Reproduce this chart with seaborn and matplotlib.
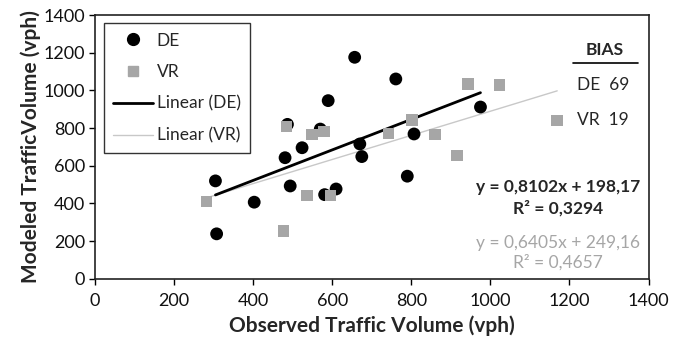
import numpy as np
import pandas as pd
import matplotlib
matplotlib.use("Agg")
import matplotlib.pyplot as plt
import seaborn as sns
from matplotlib.lines import Line2D

# ---- data ----
de_obs = [305, 308, 403, 481, 487, 494, 524, 570, 581, 590, 610, 657, 670, 675, 761, 790, 807, 975]
de_mod = [520, 239, 407, 643, 820, 493, 696, 795, 447, 946, 477, 1176, 716, 649, 1061, 545, 769, 912]
vr_obs = [283, 477, 484, 536, 549, 580, 596, 743, 802, 860, 916, 943, 1023, 1169]
vr_mod = [410, 253, 810, 442, 766, 781, 442, 772, 843, 767, 656, 1034, 1029, 840]
de_fit = (0.8102, 198.17)
vr_fit = (0.6405, 249.16)
bias_labels = ["DE", "VR"]
bias_values = [69, 19]
x_ticks = [0, 200, 400, 600, 800, 1000, 1200, 1400]
y_ticks = [0, 200, 400, 600, 800, 1000, 1200, 1400]

sns.set_theme(style="white")
plt.rcParams['font.family'] = ['Lato', 'DejaVu Sans']

fig = plt.figure(figsize=(6.82, 3.43), dpi=100)
ax = fig.add_axes([0.139, 0.187, 0.812, 0.769])

GRAY = "#a6a6a6"
LGRAY = "#c8c8c8"

df_de = pd.DataFrame({"x": de_obs, "y": de_mod})
df_vr = pd.DataFrame({"x": vr_obs, "y": vr_mod})

# fit lines
xd = np.array([min(de_obs), max(de_obs)])
xv = np.array([min(vr_obs), max(vr_obs)])
sns.lineplot(x=xv, y=vr_fit[0] * xv + vr_fit[1], ax=ax, color=LGRAY, lw=1.0, zorder=2)
sns.lineplot(x=xd, y=de_fit[0] * xd + de_fit[1], ax=ax, color="black", lw=2.0, zorder=4)

sns.scatterplot(data=df_de, x="x", y="y", ax=ax, color="black", marker="o", s=85,
                edgecolor="none", zorder=3)
sns.scatterplot(data=df_vr, x="x", y="y", ax=ax, color=GRAY, marker="s", s=68,
                edgecolor="none", zorder=5)

ax.set_xlim(0, 1400)
ax.set_ylim(0, 1400)
ax.set_xticks(x_ticks)
ax.set_yticks(y_ticks)
ax.tick_params(axis="both", labelsize=13, length=4, width=1, color="black",
               direction="out", bottom=True, left=True, labelcolor="#111111")
ax.tick_params(axis="x", pad=6)
ax.tick_params(axis="y", pad=3)
for s in ax.spines.values():
    s.set_visible(True)
    s.set_color("#222222")
    s.set_linewidth(1.2)
ax.set_xlabel("Observed Traffic Volume (vph)", fontsize=15, fontweight="bold", labelpad=5)
ax.set_ylabel("Modeled TrafficVolume (vph)", fontsize=15, fontweight="bold", labelpad=2)

handles = [
    Line2D([], [], ls="none", marker="o", color="black", markersize=8.5),
    Line2D([], [], ls="none", marker="s", color=GRAY, markersize=6.5),
    Line2D([], [], color="black", lw=2.0),
    Line2D([], [], color=LGRAY, lw=1.0),
]
leg = ax.legend(handles, ["DE", "VR", "Linear (DE)", "Linear (VR)"], loc="upper left",
                bbox_to_anchor=(0.016, 0.97), fontsize=12.5, frameon=True, fancybox=False,
                edgecolor="#333333", framealpha=1, handlelength=2.3, handletextpad=0.2,
                labelspacing=0.9, borderpad=0.55, borderaxespad=0)
leg.get_frame().set_linewidth(1.0)

# BIAS table
ax.text(1290, 1214, "BIAS", fontsize=12.5, fontweight="bold", ha="center", va="center")
ax.plot([1208, 1372], [1147, 1147], color="black", lw=1.2)
for i, (lab, val) in enumerate(zip(bias_labels, bias_values)):
    ax.text(1284, 1029 - i * 186, f"{lab}  {val}", fontsize=12.5, ha="center", va="center")

# equations
ax.text(1171, 489, "y = 0,8102x + 198,17", fontsize=12.5, fontweight="bold",
        ha="center", va="center")
ax.text(1171, 376, "R² = 0,3294", fontsize=12.5, fontweight="bold", ha="center", va="center")
ax.text(1171, 191, "y = 0,6405x + 249,16", fontsize=12.5, color=GRAY,
        ha="center", va="center")
ax.text(1171, 85, "R² = 0,4657", fontsize=12.5, color=GRAY, ha="center", va="center")

fig.savefig("out.png", dpi=100)
